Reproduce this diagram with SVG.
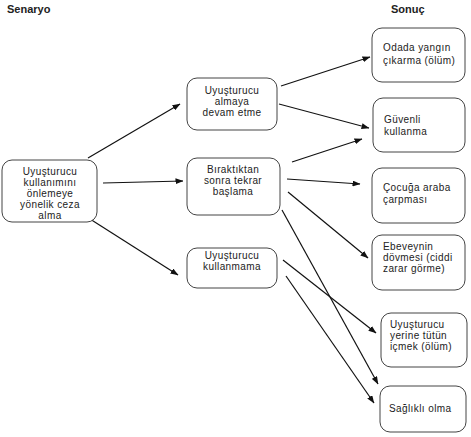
<svg xmlns="http://www.w3.org/2000/svg" width="471" height="437" viewBox="0 0 471 437">
<style>
.box{fill:#fff;stroke:#444;stroke-width:1}
.t{font-family:"Liberation Sans",Arial,sans-serif;font-size:10px;fill:#222;letter-spacing:0.4px}
.c{text-anchor:middle}
.h{font-family:"Liberation Sans",Arial,sans-serif;font-size:11px;font-weight:bold;fill:#222}
.ln{stroke:#111;stroke-width:1.2;fill:none;marker-end:url(#ah)}
</style>
<defs>
<marker id="ah" markerWidth="8" markerHeight="6" refX="7.5" refY="3" orient="auto" markerUnits="userSpaceOnUse">
<path d="M0,0 L8,3 L0,6 z" fill="#111"/>
</marker>
</defs>
<rect width="471" height="437" fill="#fff"/>
<text class="h" x="7" y="13">Senaryo</text>
<text class="h" x="391" y="13">Sonuç</text>
<g id="connectors">
<line class="ln" x1="88" y1="158" x2="180" y2="104"/>
<line class="ln" x1="103" y1="183" x2="183" y2="181"/>
<line class="ln" x1="90" y1="219" x2="178" y2="275"/>
<line class="ln" x1="281" y1="86" x2="370" y2="57"/>
<line class="ln" x1="279" y1="104" x2="369" y2="128"/>
<line class="ln" x1="292" y1="162" x2="362" y2="139"/>
<line class="ln" x1="287" y1="179" x2="360" y2="184"/>
<line class="ln" x1="288" y1="192" x2="368" y2="258"/>
<line class="ln" x1="282" y1="210" x2="378" y2="384"/>
<line class="ln" x1="283" y1="260" x2="376" y2="333"/>
<line class="ln" x1="286" y1="276" x2="374" y2="403"/>
</g>
<g id="n-left">
<rect class="box" x="2" y="160" width="95" height="62" rx="10"/>
<text class="t c" x="50" y="174.5">Uyuşturucu</text>
<text class="t c" x="50" y="185.7">kullanımını</text>
<text class="t c" x="50" y="196.9">önlemeye</text>
<text class="t c" x="50" y="208.1">yönelik ceza</text>
<text class="t c" x="50" y="219.3">alma</text>
</g>
<g id="n-m1">
<rect class="box" x="187" y="78" width="90" height="52" rx="10"/>
<text class="t c" x="232" y="94">Uyuşturucu</text>
<text class="t c" x="232" y="105.2">almaya</text>
<text class="t c" x="232" y="116.4">devam etme</text>
</g>
<g id="n-m2">
<rect class="box" x="187" y="158" width="93" height="57" rx="10"/>
<text class="t c" x="233" y="173">Bıraktıktan</text>
<text class="t c" x="233" y="184.2">sonra tekrar</text>
<text class="t c" x="233" y="195.4">başlama</text>
</g>
<g id="n-m3">
<rect class="box" x="187" y="248" width="90" height="40" rx="10"/>
<text class="t c" x="232" y="259">Uyuşturucu</text>
<text class="t c" x="232" y="270.2">kullanmama</text>
</g>
<g id="n-r1">
<rect class="box" x="372" y="28" width="93" height="54" rx="10"/>
<text class="t" x="383" y="51">Odada yangın</text>
<text class="t" x="383" y="64">çıkarma (ölüm)</text>
</g>
<g id="n-r2">
<rect class="box" x="373" y="98" width="92" height="54" rx="10"/>
<text class="t" x="384" y="123">Güvenli</text>
<text class="t" x="384" y="135">kullanma</text>
</g>
<g id="n-r3">
<rect class="box" x="372" y="168" width="93" height="55" rx="10"/>
<text class="t" x="383" y="191">Çocuğa araba</text>
<text class="t" x="383" y="203">çarpması</text>
</g>
<g id="n-r4">
<rect class="box" x="372" y="235" width="93" height="55" rx="10"/>
<text class="t" x="383" y="250">Ebeveynin</text>
<text class="t" x="383" y="261.2">dövmesi (ciddi</text>
<text class="t" x="383" y="272.4">zarar görme)</text>
</g>
<g id="n-r5">
<rect class="box" x="381" y="313" width="86" height="54" rx="10"/>
<text class="t" x="390" y="328">Uyuşturucu</text>
<text class="t" x="390" y="339.2">yerine tütün</text>
<text class="t" x="390" y="350.4">içmek (ölüm)</text>
</g>
<g id="n-r6">
<rect class="box" x="380" y="386" width="86" height="46" rx="10"/>
<text class="t" x="389" y="412">Sağlıklı olma</text>
</g>
</svg>
